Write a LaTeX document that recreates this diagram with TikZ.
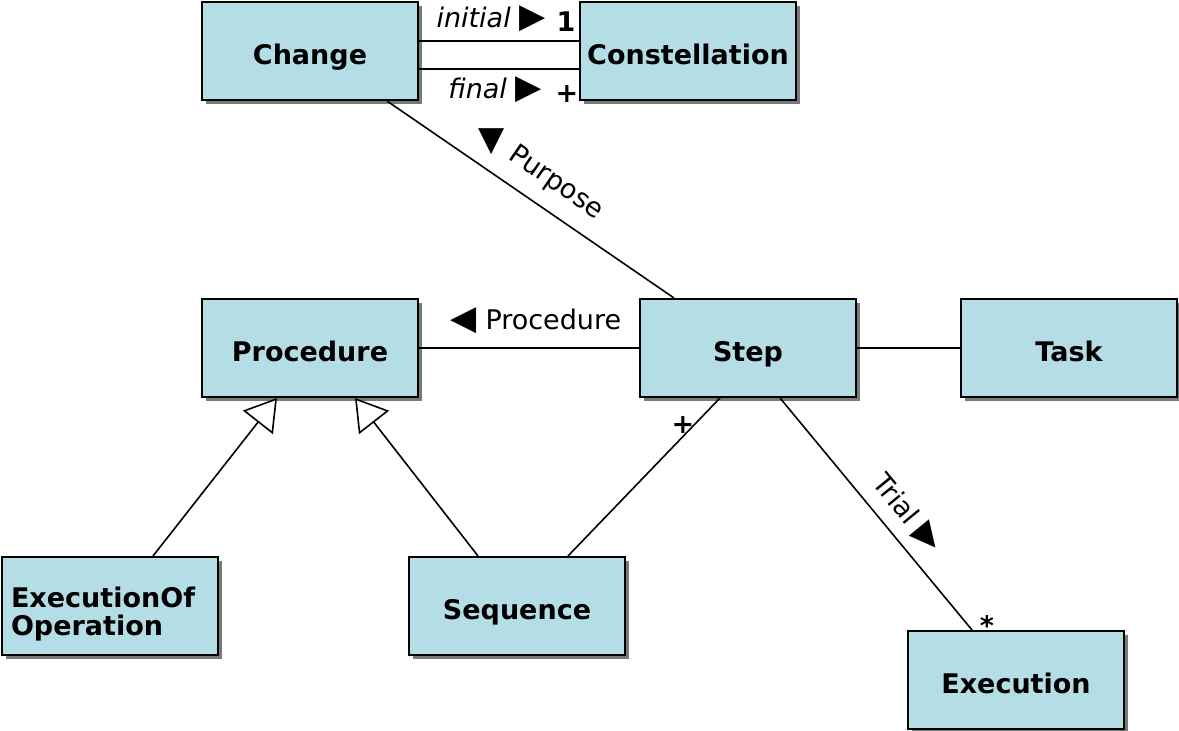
\documentclass[tikz,border=0pt]{standalone}
\usepackage{fontspec}
\setmainfont{DejaVu Sans}
\usetikzlibrary{arrows.meta, shadows}
\definecolor{umlblue}{HTML}{B5DDE6}
\definecolor{umlshadow}{HTML}{7A7A7A}
\newcommand{\umltri}[1]{{\fontsize{17}{17}\selectfont\upshape #1}}

\begin{document}
\begin{tikzpicture}[x=0.5pt, y=-0.5pt,
    every node/.style={font=\fontsize{13.5}{14}\selectfont},
    umlclass/.style={draw, line width=1pt, fill=umlblue, minimum width=108pt,
      minimum height=49pt, inner sep=0pt, text height=14.8pt, text depth=1.4pt,
      font=\fontsize{13.5}{14}\selectfont\bfseries,
      drop shadow={shadow xshift=1.8pt, shadow yshift=-1.8pt, opacity=1, fill=umlshadow}},
    assoc/.style={line width=0.8pt},
    inherit/.style={line width=0.8pt, -{Triangle[open, length=15.5pt, width=19pt, fill=white]}},
    rolename/.style={inner sep=0pt},
    mult/.style={inner sep=0pt, font=\fontsize{13.5}{14}\selectfont\bfseries}]
  \useasboundingbox (0,0) rectangle (1179,731);

  % classes
  \node[umlclass] (change) at (310,51) {Change};
  \node[umlclass] (constellation) at (688,51) {Constellation};
  \node[umlclass] (procedure) at (310,348) {Procedure};
  \node[umlclass] (step) at (748,348) {Step};
  \node[umlclass] (task) at (1069,348) {Task};
  \node[umlclass, text width=99pt, inner xsep=4.5pt, align=left,
        text height=10pt, text depth=8pt] (execop) at (110,606) {ExecutionOf\\Operation};
  \node[umlclass] (sequence) at (517,606) {Sequence};
  \node[umlclass] (execution) at (1016,680) {Execution};

  % associations
  \draw[assoc] ([yshift=5pt]change.east) -- ([yshift=5pt]constellation.west);
  \draw[assoc] ([yshift=-9pt]change.east) -- ([yshift=-9pt]constellation.west);
  \draw[assoc] ([xshift=38.5pt]change.south) -- ([xshift=-37pt]step.north);
  \draw[assoc] (procedure) -- (step);
  \draw[assoc] (step) -- (task);
  \draw[assoc] ([xshift=25.5pt]sequence.north) -- ([xshift=-14pt]step.south);
  \draw[assoc] ([xshift=16pt]step.south) -- ([xshift=-22pt]execution.north);

  % generalisations
  \draw[inherit] ([xshift=21.5pt]execop.north) -- ([xshift=-16.5pt]procedure.south);
  \draw[inherit] ([xshift=-19.5pt]sequence.north) -- ([xshift=22.5pt]procedure.south);

  % role names and multiplicities
  \node[rolename] (initiallbl) at (491,19) {\textit{initial} \umltri{▶}};
  \node[mult] (initialmult) at (566,22) {1};
  \node[rolename] (finallbl) at (495,90) {\textit{final} \umltri{▶}};
  \node[mult] (finalmult) at (567,94) {+};
  \node[rolename] (purposearrow) at (492,142) {\umltri{▼}};
  \node[rolename, rotate=-34.6] (purposelbl) at (556,183) {Purpose};
  \node[rolename] (procedurelbl) at (536,321) {\umltri{◀} Procedure};
  \node[mult] (stepmult) at (683,425) {+};
  \node[rolename, rotate=-50.6] (triallbl) at (907,513) {Trial \umltri{▶}};
  \node[mult] (trialmult) at (987,625) {*};
\end{tikzpicture}
\end{document}
